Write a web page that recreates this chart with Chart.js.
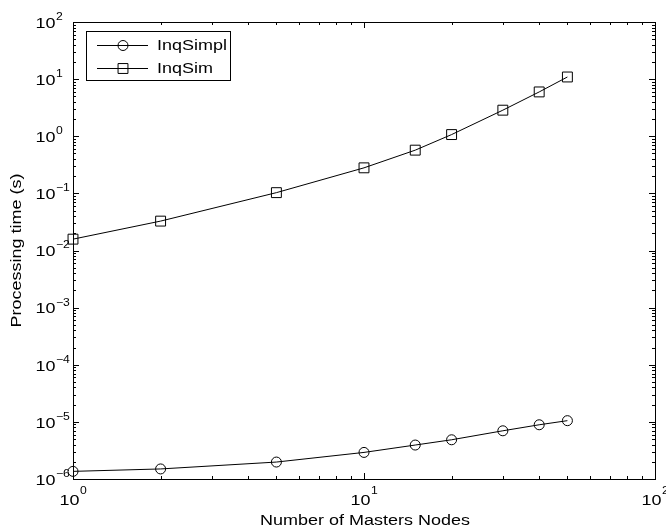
<!DOCTYPE html>
<html>
<head>
<meta charset="utf-8">
<script src="https://cdn.jsdelivr.net/npm/chart.js@4/dist/chart.umd.min.js"></script>
<style>
html,body{margin:0;padding:0;background:#fff;}
canvas{display:block;}
</style>
</head>
<body>
<canvas id="c" width="666" height="529"></canvas>
<script>
const nodes = [1, 2, 5, 10, 15, 20, 30, 40, 50];
const inqSimpl = [1.36e-6, 1.5e-6, 1.98e-6, 2.92e-6, 3.93e-6, 4.86e-6, 6.98e-6, 8.9e-6, 1.05e-5];
const inqSim = [0.0158, 0.0327, 0.103, 0.28, 0.571, 1.07, 2.86, 5.97, 10.9];
const xTickExps = [0, 1, 2];
const yTickExps = [-6, -5, -4, -3, -2, -1, 0, 1, 2];
const seriesNames = ['InqSimpl', 'InqSim'];
const xTitle = 'Number of Masters Nodes';
const yTitle = 'Processing time (s)';

const FONT = 'Liberation Sans, Arial, sans-serif';
const SX = 1.16;

function pts(vals){ return nodes.map((n,i)=>({x:n, y:vals[i]})); }

function measure(ctx, s, size){
  ctx.save();
  ctx.font = size + 'px ' + FONT;
  const w = ctx.measureText(s).width * SX;
  ctx.restore();
  return w;
}
function txt(ctx, s, x, y, size, align, baseline, angle){
  ctx.save();
  ctx.translate(x, y);
  if (angle) ctx.rotate(angle);
  ctx.scale(SX, 1);
  ctx.font = size + 'px ' + FONT;
  ctx.textAlign = align || 'left';
  ctx.textBaseline = baseline || 'middle';
  ctx.fillStyle = '#000';
  ctx.fillText(s, 0, 0);
  ctx.restore();
}

const overlay = {
  id: 'overlay',
  afterDraw(chart){
    const ctx = chart.ctx;
    const a = chart.chartArea;
    const xs = chart.scales.x, ys = chart.scales.y;
    ctx.save();
    ctx.strokeStyle = '#000';
    ctx.fillStyle = '#000';
    ctx.lineWidth = 1;
    // frame
    ctx.strokeRect(Math.round(a.left)+0.5, Math.round(a.top)+0.5, Math.round(a.right-a.left), Math.round(a.bottom-a.top));
    // ticks
    ctx.beginPath();
    for (let e = xTickExps[0]; e <= xTickExps[xTickExps.length-1]; e++) {
      for (let m = 1; m <= 9; m++) {
        const v = m * Math.pow(10, e);
        if (v > xs.max * 1.0001) break;
        const px = Math.round(xs.getPixelForValue(v)) + 0.5;
        const len = m === 1 ? 6 : 3;
        ctx.moveTo(px, a.bottom); ctx.lineTo(px, a.bottom - len);
        ctx.moveTo(px, a.top); ctx.lineTo(px, a.top + len);
      }
    }
    for (let e = yTickExps[0]; e <= yTickExps[yTickExps.length-1]; e++) {
      for (let m = 1; m <= 9; m++) {
        const v = m * Math.pow(10, e);
        if (v > ys.max * 1.0001) break;
        const py = Math.round(ys.getPixelForValue(v)) + 0.5;
        const len = m === 1 ? 6 : 3;
        ctx.moveTo(a.left, py); ctx.lineTo(a.left + len, py);
        ctx.moveTo(a.right, py); ctx.lineTo(a.right - len, py);
      }
    }
    ctx.stroke();

    // y tick labels
    yTickExps.forEach(e => {
      const py = ys.getPixelForValue(Math.pow(10, e));
      txt(ctx, '10', 55.5, py + 1.5, 15.5, 'right', 'middle');
      txt(ctx, String(e).replace('-', '\u2212'), 56, py - 5, 10.5, 'left', 'middle');
    });
    // x tick labels
    xTickExps.forEach(e => {
      const px = xs.getPixelForValue(Math.pow(10, e));
      const bw = measure(ctx, '10', 15.5);
      const ew = measure(ctx, String(e), 10.5);
      const start = px - (bw + ew) / 2;
      txt(ctx, '10', start, 501, 15.5, 'left', 'middle');
      txt(ctx, String(e), start + bw + 0.5, 491.5, 10.5, 'left', 'middle');
    });

    // axis titles
    txt(ctx, xTitle, (a.left + a.right) / 2 + 1, 520.5, 15.5, 'center', 'middle');
    txt(ctx, yTitle, 17, (a.top + a.bottom) / 2, 15.5, 'center', 'middle', -Math.PI / 2);

    // legend
    const lx = 86, ly = 31, lw = 144, lh = 49;
    ctx.fillStyle = '#fff';
    ctx.fillRect(lx, ly, lw, lh);
    ctx.strokeStyle = '#000';
    ctx.strokeRect(lx + 0.5, ly + 0.5, lw, lh);
    const rows = [45, 67.5];
    chart.data.datasets.forEach((ds, i) => {
      const y = Math.round(rows[i]) + 0.5;
      ctx.strokeStyle = '#000';
      ctx.lineWidth = 1;
      ctx.beginPath();
      ctx.moveTo(97, y); ctx.lineTo(148, y);
      ctx.stroke();
      ctx.fillStyle = 'rgba(0,0,0,0)';
      Chart.helpers.drawPoint(ctx, {
        pointStyle: ds.pointStyle, radius: ds.pointRadius, borderWidth: 1, rotation: 0
      }, 123, y);
      txt(ctx, ds.label, 157, rows[i] + 1, 15.5, 'left', 'middle');
    });
    ctx.restore();
  }
};

const bg = {
  id: 'bg',
  beforeDraw(chart){
    const ctx = chart.ctx;
    ctx.save();
    ctx.fillStyle = '#fff';
    ctx.fillRect(0, 0, chart.width, chart.height);
    ctx.restore();
  }
};

new Chart(document.getElementById('c'), {
  type: 'line',
  data: {
    datasets: [
      {
        label: seriesNames[0], data: pts(inqSimpl),
        borderColor: '#000', borderWidth: 1, backgroundColor: 'rgba(0,0,0,0)',
        pointStyle: 'circle', pointRadius: 5, pointBorderColor: '#000', pointBackgroundColor: 'rgba(0,0,0,0)', pointBorderWidth: 1,
        tension: 0, clip: false
      },
      {
        label: seriesNames[1], data: pts(inqSim),
        borderColor: '#000', borderWidth: 1, backgroundColor: 'rgba(0,0,0,0)',
        pointStyle: 'rect', pointRadius: 7, pointBorderColor: '#000', pointBackgroundColor: 'rgba(0,0,0,0)', pointBorderWidth: 1,
        tension: 0, clip: false
      }
    ]
  },
  options: {
    responsive: false,
    animation: false,
    devicePixelRatio: 1,
    layout: { padding: { top: 22, right: 11, left: 0, bottom: 0 } },
    plugins: { legend: { display: false }, tooltip: { enabled: false } },
    scales: {
      x: {
        type: 'logarithmic', min: 1, max: 100,
        ticks: { display: false }, grid: { display: false }, border: { display: false },
        afterFit(s){ s.height = 50; }
      },
      y: {
        type: 'logarithmic', min: 1e-6, max: 100,
        ticks: { display: false }, grid: { display: false }, border: { display: false },
        afterFit(s){ s.width = 73; }
      }
    }
  },
  plugins: [bg, overlay]
});
</script>
</body>
</html>
